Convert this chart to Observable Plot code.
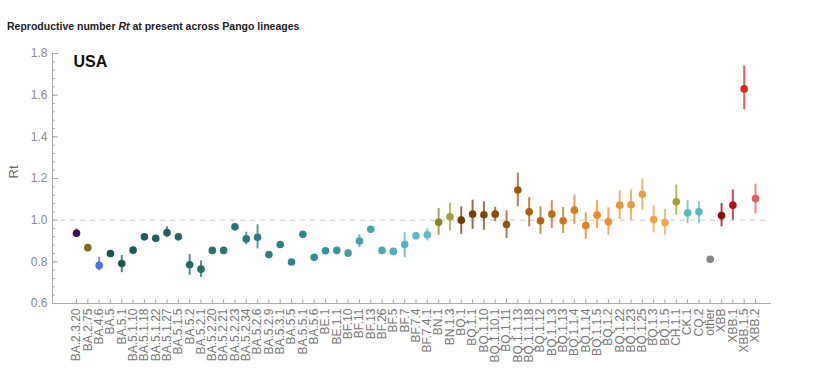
<!DOCTYPE html>
<html><head><meta charset="utf-8">
<script src="https://cdn.jsdelivr.net/npm/d3@7"></script>
<script src="https://cdn.jsdelivr.net/npm/@observablehq/plot@0.6"></script>
<style>
body{margin:0;background:#fff;font-family:"Liberation Sans",Arial,sans-serif;}
#title{height:40px;box-sizing:border-box;padding:20px 0 0 7px;font-size:10.5px;font-weight:bold;color:#222;line-height:13px;white-space:nowrap;}
</style></head><body>
<div id="title">Reproductive number <i>Rt</i> at present across Pango lineages</div>
<div id="chart"></div>
<script>
const lineages = ["BA.2.3.20","BA.2.75","BA.4.6","BA.5","BA.5.1","BA.5.1.10","BA.5.1.18","BA.5.1.22","BA.5.1.27","BA.5.1.5","BA.5.2","BA.5.2.1","BA.5.2.20","BA.5.2.21","BA.5.2.23","BA.5.2.34","BA.5.2.6","BA.5.2.9","BA.5.3.1","BA.5.5","BA.5.5.1","BA.5.6","BE.1","BE.1.1","BF.10","BF.11","BF.13","BF.26","BF.5","BF.7","BF.7.4","BF.7.4.1","BN.1","BN.1.3","BQ.1","BQ.1.1","BQ.1.10","BQ.1.10.1","BQ.1.11","BQ.1.1.13","BQ.1.1.18","BQ.1.12","BQ.1.1.3","BQ.1.13","BQ.1.1.4","BQ.1.14","BQ.1.1.5","BQ.1.2","BQ.1.22","BQ.1.23","BQ.1.25","BQ.1.3","BQ.1.5","CH.1.1","CK.1","CQ.2","other","XBB","XBB.1","XBB.1.5","XBB.2"];
const rt = [0.937,0.868,0.783,0.840,0.792,0.856,0.920,0.913,0.940,0.920,0.786,0.765,0.855,0.855,0.968,0.910,0.918,0.835,0.883,0.799,0.932,0.822,0.853,0.855,0.842,0.900,0.956,0.855,0.850,0.883,0.925,0.930,0.990,1.016,1.000,1.029,1.026,1.029,0.979,1.145,1.040,0.997,1.029,0.997,1.048,0.974,1.024,0.992,1.072,1.074,1.124,1.003,0.989,1.088,1.035,1.040,0.812,1.022,1.072,1.630,1.104];
const rtLow = [0.918,0.860,0.757,0.833,0.748,0.850,0.913,0.906,0.918,0.913,0.735,0.725,0.850,0.850,0.962,0.882,0.862,0.830,0.872,0.794,0.926,0.816,0.848,0.850,0.835,0.868,0.950,0.850,0.845,0.820,0.915,0.900,0.928,0.948,0.932,0.955,0.952,0.993,0.912,1.064,0.968,0.932,0.960,0.936,0.980,0.908,0.960,0.928,1.003,1.000,1.048,0.939,0.928,1.024,0.984,0.984,0.810,0.968,1.000,1.530,1.030];
const rtHigh = [0.958,0.876,0.822,0.848,0.830,0.862,0.928,0.921,0.968,0.927,0.835,0.805,0.860,0.860,0.974,0.942,0.978,0.840,0.893,0.804,0.938,0.828,0.858,0.860,0.850,0.930,0.962,0.860,0.855,0.940,0.935,0.960,1.056,1.082,1.064,1.096,1.088,1.062,1.045,1.226,1.108,1.064,1.093,1.061,1.120,1.035,1.093,1.060,1.141,1.145,1.198,1.069,1.052,1.169,1.093,1.088,0.814,1.080,1.145,1.739,1.173];
const yTicks = [0.6,0.8,1.0,1.2,1.4,1.6,1.8];

// styling: colour per lineage
const colors = [].concat(
  ["#3f0d52","#7a711c","#4d6ee8"],
  d3.quantize(d3.interpolateRgb("#1c5250","#2f8d8d"), 19),
  d3.quantize(d3.interpolateRgb("#339595","#5bbcc4"), 10),
  ["#858522","#a0a038"],
  d3.quantize(d3.piecewise(d3.interpolateRgb, ["#6e3b07","#a85d12","#ee8a1e","#f5a54a"]), 19),
  ["#a0a030","#5ab7c2","#5ab7c2","#858585","#8e0a0a","#b5121b","#e8231d","#f05a5a"]
);

const data = lineages.map((d, i) => ({lineage: d, rt: rt[i], lo: rtLow[i], hi: rtHigh[i]}));
const minorTicks = d3.range(0, 31).map(i => +(0.6 + i * 0.04).toFixed(2));

const chart = Plot.plot({
  width: 823, height: 349,
  marginTop: 13, marginBottom: 86, marginLeft: 52, marginRight: 53,
  style: {fontFamily: "Liberation Sans, Arial, sans-serif", background: "white", overflow: "visible"},
  x: {type: "point", domain: lineages, range: [76, 755], padding: 0, round: false, axis: null, label: null},
  y: {domain: [0.6, 1.8], axis: null, label: null},
  color: {type: "ordinal", domain: lineages, range: colors},
  marks: [
    Plot.ruleY([1], {stroke: "#c8c8c8", strokeDasharray: "5,5", strokeWidth: 1, insetLeft: 8}),
    Plot.axisY({ticks: minorTicks, tickSize: -3, text: null, stroke: "#aaa", label: null}),
    Plot.axisY({ticks: yTicks, tickSize: -6, text: null, stroke: "#aaa", label: null}),
    Plot.axisY({ticks: yTicks, tickSize: 0, tickPadding: 5, tickFormat: d => d.toFixed(1), fill: "#8a8a8a", fontSize: 12, label: null}),
    Plot.axisX({tickSize: -4, text: null, stroke: "#aaa", label: null}),
    Plot.axisX({tickSize: 0, tickPadding: 5, tickRotate: -90, fill: "#777", fontSize: 12, label: null}),
    Plot.frame({anchor: "left", stroke: "#aaa"}),
    Plot.frame({anchor: "bottom", stroke: "#aaa"}),
    Plot.ruleX(data, {x: "lineage", y1: "lo", y2: "hi", stroke: "lineage", strokeWidth: 2, strokeOpacity: 0.75}),
    Plot.dot(data, {x: "lineage", y: "rt", fill: "lineage", r: 3.8}),
    Plot.text(["USA"], {frameAnchor: "top-left", dx: 21, dy: 8, lineAnchor: "middle", textAnchor: "start", fontSize: 16, fontWeight: "bold", fill: "#111"}),
    Plot.text(["Rt"], {frameAnchor: "left", dx: -39, rotate: -90, fontSize: 13, fill: "#666"})
  ]
});
document.getElementById("chart").appendChild(chart);
</script>
</body></html>
